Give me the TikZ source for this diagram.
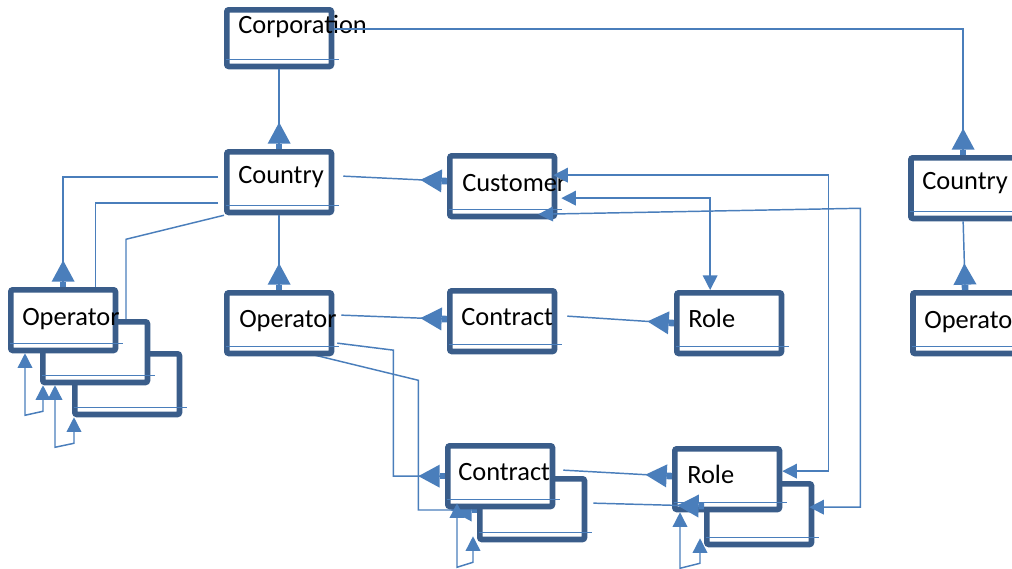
\documentclass[tikz,border=0pt]{standalone}
\usepackage{fontspec}
\newfontfamily\clsfont{Carlito}
\usetikzlibrary{arrows.meta,calc,backgrounds}
\definecolor{clsblue}{RGB}{58,93,138}
\definecolor{lnblue}{RGB}{74,126,187}
\tikzset{
  cls/.style={draw=clsblue, line width=4.3pt, fill=white, rounded corners=1.5pt,
    minimum width=78.4pt, minimum height=45.4pt, inner sep=0pt, anchor=north west},
  title/.style={anchor=base west, inner sep=0pt, font=\clsfont\fontsize{19.8}{24}\selectfont},
  conn/.style={draw=lnblue, line width=1.1pt},
  sepline/.style={draw=lnblue, line width=1.1pt},
  umlrev/.tip={Triangle[reversed,length=16pt,width=17pt,sep=0pt] Rectangle[length=4pt,width=5pt]},
  umlfwd/.tip={Triangle[length=11pt,width=11pt]},
}
\begin{document}
\begin{tikzpicture}[x=0.75pt, y=-0.75pt]
    \useasboundingbox (0,0) rectangle (1012,568);
    \clip (0,0) rectangle (1012,568);

    % Classes
    \node[cls, minimum height=42.4pt] (corp) at (224,7) {};
    \node[cls] (ctryA) at (224,149) {};
    \node[cls] (cust) at (447,153) {};
    \node[cls] (ctryB) at (908,155) {};
    \node[cls] (opA3) at (72,351) {};
    \node[cls] (opA2) at (40,319) {};
    \node[cls] (opA1) at (8,287) {};
    \node[cls] (opB) at (224,290) {};
    \node[cls] (conA) at (447,288) {};
    \node[cls] (roleA) at (674,290) {};
    \node[cls] (opC) at (910,290) {};
    \node[cls] (conB2) at (477,476) {};
    \node[cls] (conB1) at (445,443) {};
    \node[cls] (roleB2) at (704,481) {};
    \node[cls] (roleB1) at (672,446) {};

    % Separators
    \foreach \b in {corp,ctryA,cust,ctryB,opA1,opA2,opA3,opB,conA,roleA,opC,conB1,conB2,roleB1,roleB2}
        \draw[sepline] ($(\b.south west)+(2,-10)$) -- ($(\b.south east)+(5,-10)$);

    % Names
    \node[title] (corpT) at ($(corp.north west)+(14,26)$) {Corporation};
    \node[title] (ctryAT) at ($(ctryA.north west)+(14,34)$) {Country};
    \node[title] (custT) at ($(cust.north west)+(15,38)$) {Customer};
    \node[title] (ctryBT) at ($(ctryB.north west)+(14,34)$) {Country};
    \node[title] (opA1T) at ($(opA1.north west)+(14,38)$) {Operator};
    \node[title] (opBT) at ($(opB.north west)+(15,37)$) {Operator};
    \node[title] (conAT) at ($(conA.north west)+(14,37)$) {Contract};
    \node[title] (roleAT) at ($(roleA.north west)+(14,37)$) {Role};
    \node[title] (opCT) at ($(opC.north west)+(14,38)$) {Operator};
    \node[title] (conB1T) at ($(conB1.north west)+(13,37)$) {Contract};
    \node[title] (roleB1T) at ($(roleB1.north west)+(15,37)$) {Role};

    % Links
    \draw[conn,-umlrev] (corp.south) -- (ctryA.north);
    \draw[conn,-umlrev] ($(corp.east)+(0,-9)$) -| (ctryB.north);
    \draw[conn,-umlrev] (ctryB.south) -- (opC.north);
    \draw[conn,-umlrev] (ctryA.south) -- (opB.north);
    \draw[conn,-umlrev] ($(ctryA.east)+(9,-6)$) -- ($(cust.west)+(0,-5)$);
    \draw[conn,-umlrev] ($(ctryA.west)+(-6,-5)$) -| (opA1.north);
    \draw[conn] ($(ctryA.west)+(-6,21)$) -| ($(opA1.north east)+(-23,0)$);
    \draw[conn] (ctryA.south west) -- ++(-98,24) coordinate (k8) -- (k8 |- opA2.north);
    \draw[conn,umlfwd-umlfwd] ($(opA1.south west)+(17,0)$) -- ++(0,62)
        -- ($(opA2.south west)+(3,26)$) -- ($(opA2.south west)+(3,0)$);
    \draw[conn,umlfwd-umlfwd] ($(opA2.south west)+(15,0)$) -- ++(0,62)
        -- ($(opA3.south west)+(2,26)$) -- ($(opA3.south west)+(2,0)$);
    \draw[conn,-umlrev] ($(opB.east)+(7,-8)$) -- ($(conA.west)+(0,-2)$);
    \draw[conn,-umlrev] ($(conA.east)+(10,-5)$) -- (roleA.west);
    \draw[conn,umlfwd-umlfwd] ($(cust.east)+(4,12)$) -| ($(roleA.north)+(-19,0)$);
    \draw[conn,umlfwd-umlfwd] ($(cust.east)+(-4,-11)$) -- ++(275,0) |- ($(roleB1.east)+(0,-8)$);
    \draw[conn,umlfwd-umlfwd] ($(cust.south east)+(-19,-5)$) -- ++(322,-6) |- ($(roleB2.east)+(-5,-7)$);
    \draw[conn,-umlrev] ($(opB.east)+(3,20)$) -- ++(56,7) |- (conB1.west);
    \begin{pgfonlayer}{background}
        \draw[conn,-umlrev] ($(opB.south east)+(-19,-1)$) -- ++(103,25) |- ($(conB2.north west)+(0,34)$);
    \end{pgfonlayer}
    \draw[conn,-umlrev] ($(conB1.east)+(8,-6)$) -- ($(roleB1.west)+(0,-3)$);
    \draw[conn,-umlrev] ($(conB2.east)+(6,-6)$) -- ($(roleB2.west)+(0,-8)$);
    \draw[conn,umlfwd-umlfwd] ($(conB1.south west)+(12,-6)$) -- ++(0,64)
        -- ($(conB2.south west)+(-4,20)$) -- ($(conB2.south west)+(-4,-6)$);
    \draw[conn,umlfwd-umlfwd] ($(roleB1.south west)+(8,0)$) -- ++(0,56)
        -- ($(roleB2.south west)+(-4,16)$) -- ($(roleB2.south west)+(-4,-9)$);
\end{tikzpicture}
\end{document}
